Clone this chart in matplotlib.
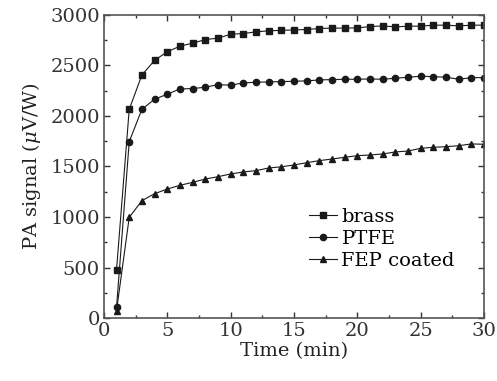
import matplotlib
matplotlib.use('Agg')
import matplotlib.pyplot as plt
from matplotlib.ticker import MultipleLocator
import numpy as np

plt.rcParams['font.family'] = ['DejaVu Serif']
plt.rcParams['mathtext.fontset'] = 'dejavuserif'

time = np.arange(1, 31)
brass = [480, 2065, 2405, 2550, 2635, 2690, 2720, 2755, 2770, 2808,
         2815, 2832, 2842, 2847, 2851, 2855, 2865, 2869, 2869, 2871,
         2884, 2891, 2881, 2888, 2888, 2898, 2898, 2891, 2898, 2898]
ptfe = [110, 1745, 2066, 2165, 2215, 2267, 2271, 2284, 2310, 2304,
        2327, 2333, 2337, 2340, 2343, 2347, 2356, 2360, 2363, 2363,
        2366, 2363, 2373, 2383, 2393, 2389, 2383, 2363, 2379, 2379]
fep = [75, 997, 1162, 1231, 1277, 1314, 1343, 1376, 1399, 1426,
       1446, 1459, 1485, 1497, 1515, 1538, 1558, 1574, 1591, 1607,
       1614, 1624, 1644, 1653, 1680, 1690, 1696, 1706, 1723, 1720]

fig = plt.figure(figsize=(4.97, 3.81), dpi=100)
ax = fig.add_axes([0.209, 0.165, 0.765, 0.796])

col = '#1a1a1a'
ax.plot(time, brass, '-s', color=col, lw=0.8, ms=4, label='brass')
ax.plot(time, ptfe, '-o', color=col, lw=0.8, ms=4.5, label='PTFE')
ax.plot(time, fep, '-^', color=col, lw=0.8, ms=4.5, label='FEP coated')

ax.set_xlim(0, 30)
ax.set_ylim(0, 3000)
ax.xaxis.set_major_locator(MultipleLocator(5))
ax.xaxis.set_minor_locator(MultipleLocator(2.5))
ax.yaxis.set_major_locator(MultipleLocator(500))
ax.yaxis.set_minor_locator(MultipleLocator(250))
ax.tick_params(which='both', direction='in', top=True, right=True, labelsize=14, colors='#333333')
ax.tick_params(which='major', length=4, width=1, pad=3)
ax.tick_params(which='minor', length=2.5, width=1)
for s in ax.spines.values():
    s.set_color('#555555')
    s.set_linewidth(1.2)

ax.set_xlabel('Time (min)', fontsize=14, color='#222222', labelpad=1)
ax.set_ylabel(r'PA signal ($\mu$V/W)', fontsize=14, color='#222222', labelpad=5)

ax.legend(loc='upper left', bbox_to_anchor=(0.52, 0.39), frameon=False,
          fontsize=14, handlelength=1.4, handletextpad=0.25, labelspacing=0.22,
          borderaxespad=0)

fig.savefig('out.png', dpi=100)
